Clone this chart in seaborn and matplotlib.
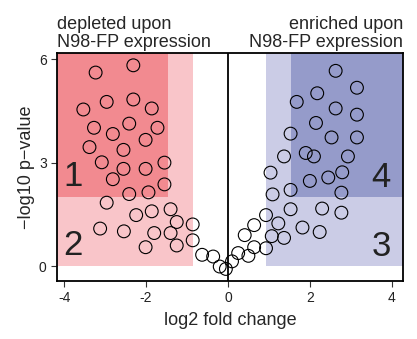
import matplotlib
matplotlib.use("Agg")
import matplotlib.pyplot as plt
import seaborn as sns
import pandas as pd

# log2 fold change / -log10 p-value for each protein
log2_fc = [
    -3.23, -2.31, -3.53, -2.96, -2.31, -1.86, -3.27, -2.81, -2.41, -1.72,
    -3.38, -2.55, -2.01, -3.08, -2.55, -2.01, -1.55, -2.81, -2.41, -1.94,
    -1.55, -2.96, -2.24, -1.86, -1.40, -1.25, -0.86, -3.12, -2.54, -1.80,
    -1.40, -0.86, -2.01, -1.25,
    -0.63, -0.36, -0.20, -0.05, 0.10, 0.25, 0.50, 0.64, 0.93,
    0.41, 1.07, 1.37, 0.64, 1.23, 1.82, 2.24, 0.93, 1.53, 2.30,
    2.77, 1.09, 1.53, 2.77, 1.04, 2.00, 2.45, 2.79, 1.37, 1.90,
    2.10, 2.93, 1.53, 2.53, 3.15, 2.15, 1.68, 2.63, 3.15, 2.18,
    3.15, 2.63,
]
neg_log10_p = [
    5.61, 5.82, 4.54, 4.76, 4.83, 4.57, 4.01, 3.83, 4.13, 4.01,
    3.45, 3.37, 3.66, 3.01, 2.82, 2.82, 3.00, 2.52, 2.09, 2.14,
    2.37, 1.84, 1.48, 1.59, 1.65, 1.28, 1.21, 1.09, 1.01, 0.96,
    0.96, 0.75, 0.55, 0.60,
    0.33, 0.28, -0.01, -0.08, 0.14, 0.38, 0.30, 0.55, 0.52,
    0.90, 0.87, 0.82, 1.19, 1.24, 1.12, 0.99, 1.48, 1.65, 1.67,
    1.55, 2.08, 2.21, 2.13, 2.71, 2.47, 2.57, 2.72, 3.18, 3.28,
    3.18, 3.18, 3.84, 3.73, 3.73, 4.15, 4.76, 4.57, 4.39, 5.01,
    5.17, 5.66,
]

# cut-offs that bound the shaded boxes
fc_cut_low = 0.88
fc_cut_high = 1.5
p_cut = 2.0
region_labels = ["1", "2", "3", "4"]

df = pd.DataFrame({"log2fc": log2_fc, "nlp": neg_log10_p})

sns.set_theme(style="ticks")
plt.rcParams["font.family"] = ["Liberation Sans", "DejaVu Sans"]

fig = plt.figure(figsize=(4.17, 3.39), dpi=100)
ax = fig.add_axes([0.137, 0.171, 0.829, 0.673])

xmin, xmax = -4.17, 4.27
ymin, ymax = -0.43, 6.18

light_red = "#f9c5c9"
dark_red = "#f28a90"
light_blue = "#cbcce6"
dark_blue = "#959bca"

ax.fill_between([xmin, -fc_cut_low + 0.03], 0, ymax, color=light_red, lw=0, zorder=0)
ax.fill_between([xmin, -fc_cut_high + 0.03], p_cut, ymax, color=dark_red, lw=0, zorder=0)
ax.fill_between([fc_cut_low + 0.05, xmax], 0, ymax, color=light_blue, lw=0, zorder=0)
ax.fill_between([fc_cut_high + 0.05, xmax], p_cut, ymax, color=dark_blue, lw=0, zorder=0)

ax.axvline(0, color="black", lw=1.3, zorder=1)

sns.scatterplot(data=df, x="log2fc", y="nlp", ax=ax, s=85,
                facecolor="none", edgecolor="black", linewidth=0.8, zorder=3)

label_pos = [(-3.79, 2.6), (-3.79, 0.6), (3.74, 0.58), (3.74, 2.58)]
for lab, (lx, ly) in zip(region_labels, label_pos):
    ax.text(lx, ly, lab, fontsize=25, ha="center", va="center", color="#222222", zorder=4)

ax.set_xlim(xmin, xmax)
ax.set_ylim(ymin, ymax)
ax.set_xticks([-4, -2, 0, 2, 4])
ax.set_xticklabels(["-4", "-2", "0", "2", "4"])
ax.set_yticks([0, 3, 6])
ax.tick_params(labelsize=10, length=4, width=0.8, color="#333333", labelcolor="#222222")

for sp in ax.spines.values():
    sp.set_color("black")
    sp.set_linewidth(1.3)

ax.set_xlabel("log2 fold change", fontsize=13, labelpad=5)
ax.set_ylabel("\u2212log10 p\u2212value", fontsize=13, labelpad=3)

ax.text(0.0, 1.01, "depleted upon\nN98-FP expression", transform=ax.transAxes,
        ha="left", va="bottom", fontsize=13, linespacing=1.05)
ax.text(1.0, 1.01, "enriched upon\nN98-FP expression", transform=ax.transAxes,
        ha="right", va="bottom", fontsize=13, linespacing=1.05)

fig.savefig("out.png", dpi=100)
